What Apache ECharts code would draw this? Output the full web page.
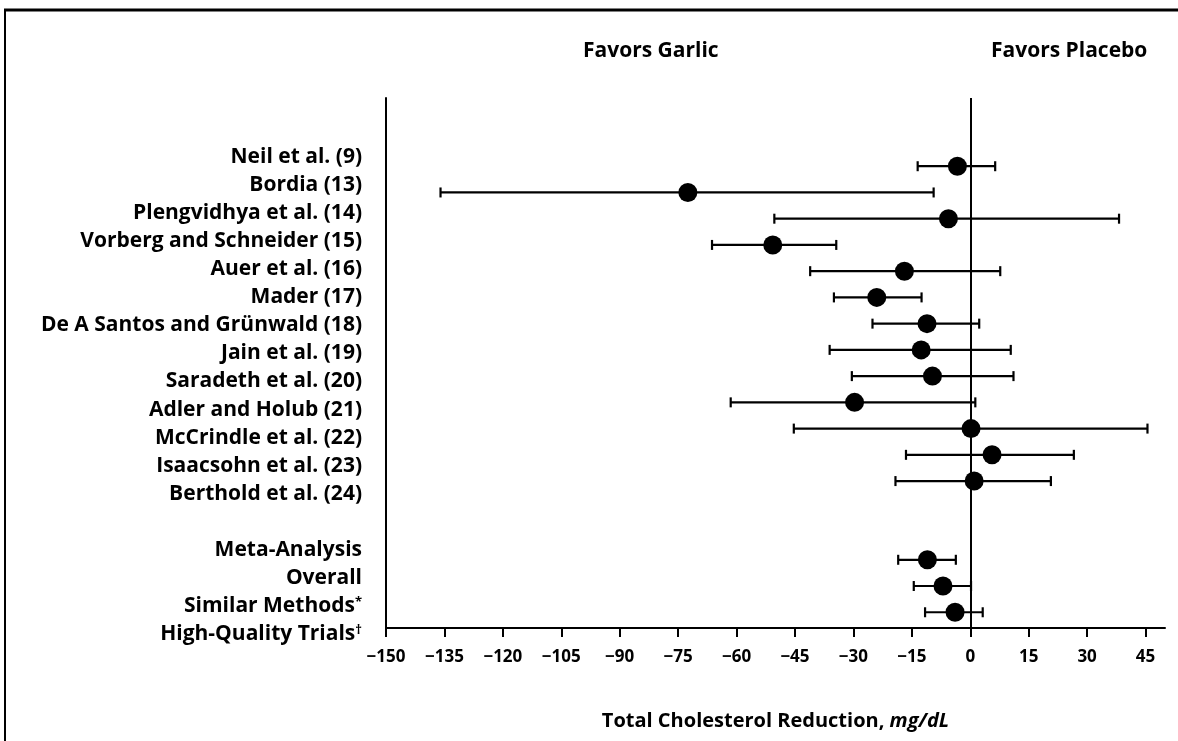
<!DOCTYPE html>
<html>
<head>
<meta charset="utf-8">
<script src="https://cdn.jsdelivr.net/npm/echarts@6/dist/echarts.min.js"></script>
<style>
html, body { margin: 0; padding: 0; background: #fff; }
#chart { width: 1178px; height: 741px; }
</style>
</head>
<body>
<div id="chart"></div>
<script>
// row index on the plot (studies 0-12, pooled estimates 15-17)
const rows = [0, 1, 2, 3, 4, 5, 6, 7, 8, 9, 10, 11, 12, 15, 16, 17];
const means = [-3.3, -72.5, -5.6, -50.7, -16.9, -24.0, -11.1, -12.6, -9.7, -29.7, 0.2, 5.6, 1.0, -11.0, -7.0, -3.9];
const lows = [-13.5, -136, -50.3, -66.3, -41.1, -35.0, -25.1, -36.1, -30.4, -61.5, -45.3, -16.5, -19.2, -18.5, -14.5, -11.6];
const highs = [6.4, -9.4, 38.2, -34.4, 7.7, -12.5, 2.3, 10.4, 11.1, 1.3, 45.5, 26.6, 20.7, -3.7, 0.2, 3.2];

// left hand labels
const rowLabels = [
    'Neil et al. (9)',
    'Bordia (13)',
    'Plengvidhya et al. (14)',
    'Vorberg and Schneider (15)',
    'Auer et al. (16)',
    'Mader (17)',
    'De A Santos and Grünwald (18)',
    'Jain et al. (19)',
    'Saradeth et al. (20)',
    'Adler and Holub (21)',
    'McCrindle et al. (22)',
    'Isaacsohn et al. (23)',
    'Berthold et al. (24)',
    '',
    'Meta-Analysis',
    'Overall',
    'Similar Methods*',
    'High-Quality Trials†'
];

const tickValues = [-150, -135, -120, -105, -90, -75, -60, -45, -30, -15, 0, 15, 30, 45];

const FONT = '"Open Sans", sans-serif';

var chart = echarts.init(document.getElementById('chart'));

var barData = rows.map((r, i) => [lows[i], highs[i], r]);
var pointData = rows.map((r, i) => [means[i], r]);

var option = {
    backgroundColor: '#fff',
    animation: false,
    title: [
        { text: 'Favors Garlic', left: 578, top: 36, textStyle: { fontFamily: FONT, fontSize: 21, fontWeight: 'bold', color: '#000' } },
        { text: 'Favors Placebo', left: 986, top: 36, textStyle: { fontFamily: FONT, fontSize: 21, fontWeight: 'bold', color: '#000' } }
    ],
    graphic: [
        { type: 'line', shape: { x1: 4, y1: 10, x2: 1178, y2: 10 }, style: { stroke: '#000', lineWidth: 3 } },
        { type: 'line', shape: { x1: 5, y1: 10, x2: 5, y2: 741 }, style: { stroke: '#000', lineWidth: 2 } }
    ],
    grid: [
        { left: 386, right: 13, top: 98, bottom: 113 },
        // only used to lay out the row labels
        { left: 386, right: 13, top: 143, height: 505 }
    ],
    xAxis: [
        {
            type: 'value',
            gridIndex: 0,
            min: -150,
            max: 50,
            interval: 15,
            axisLine: { onZero: false, lineStyle: { color: '#000', width: 2 } },
            axisTick: { customValues: tickValues, length: 9, lineStyle: { color: '#000', width: 2 } },
            axisLabel: {
                customValues: tickValues,
                margin: 21,
                color: '#000',
                fontFamily: FONT,
                fontSize: 17,
                fontWeight: 'bold',
                formatter: v => String(v).replace('-', '\u2212')
            },
            splitLine: { show: false },
            name: '{a|Total Cholesterol Reduction, }{b|mg/dL}',
            nameLocation: 'middle',
            nameGap: 83,
            nameTextStyle: {
                rich: {
                    a: { fontFamily: FONT, fontSize: 20, fontWeight: 'bold', color: '#000' },
                    b: { fontFamily: FONT, fontSize: 20, fontWeight: 'bold', fontStyle: 'italic', color: '#000' }
                }
            }
        },
        { type: 'value', gridIndex: 1, show: false }
    ],
    yAxis: [
        {
            type: 'value',
            gridIndex: 0,
            min: -2.6,
            max: 17.6,
            inverse: true,
            axisLine: { show: true, onZero: false, lineStyle: { color: '#000', width: 2 } },
            axisTick: { show: false },
            axisLabel: { show: false },
            splitLine: { show: false }
        },
        {
            type: 'category',
            gridIndex: 1,
            data: rowLabels,
            inverse: true,
            axisLine: { show: false },
            axisTick: { show: false },
            axisLabel: {
                margin: 24,
                interval: 0,
                formatter: function (v) {
                    var last = v.slice(-1);
                    if (last === '*' || last === '†') {
                        return '{n|' + v.slice(0, -1) + '}{s|' + last + '}';
                    }
                    return '{n|' + v + '}';
                },
                rich: {
                    n: { fontFamily: FONT, fontSize: 21, fontWeight: 'bold', color: '#000' },
                    s: { fontFamily: FONT, fontSize: 13, fontWeight: 'bold', color: '#000', verticalAlign: 'top' }
                }
            }
        }
    ],
    series: [
        {
            type: 'custom',
            xAxisIndex: 0,
            yAxisIndex: 0,
            encode: { x: [0, 1], y: 2 },
            data: barData,
            renderItem: function (params, api) {
                var lo = api.coord([api.value(0), api.value(2)]);
                var hi = api.coord([api.value(1), api.value(2)]);
                var cap = 5;
                var st = { stroke: '#000', lineWidth: 2.2 };
                return {
                    type: 'group',
                    children: [
                        { type: 'line', shape: { x1: lo[0], y1: lo[1], x2: hi[0], y2: hi[1] }, style: st },
                        { type: 'line', shape: { x1: lo[0], y1: lo[1] - cap, x2: lo[0], y2: lo[1] + cap }, style: st },
                        { type: 'line', shape: { x1: hi[0], y1: hi[1] - cap, x2: hi[0], y2: hi[1] + cap }, style: st }
                    ]
                };
            },
            z: 2
        },
        {
            type: 'scatter',
            xAxisIndex: 0,
            yAxisIndex: 0,
            data: pointData,
            symbol: 'circle',
            symbolSize: 19,
            itemStyle: { color: '#000', opacity: 1 },
            z: 3,
            markLine: {
                silent: true,
                symbol: 'none',
                label: { show: false },
                lineStyle: { color: '#000', width: 2, type: 'solid' },
                data: [{ xAxis: 0 }]
            }
        }
    ]
};

chart.setOption(option);
</script>
</body>
</html>
